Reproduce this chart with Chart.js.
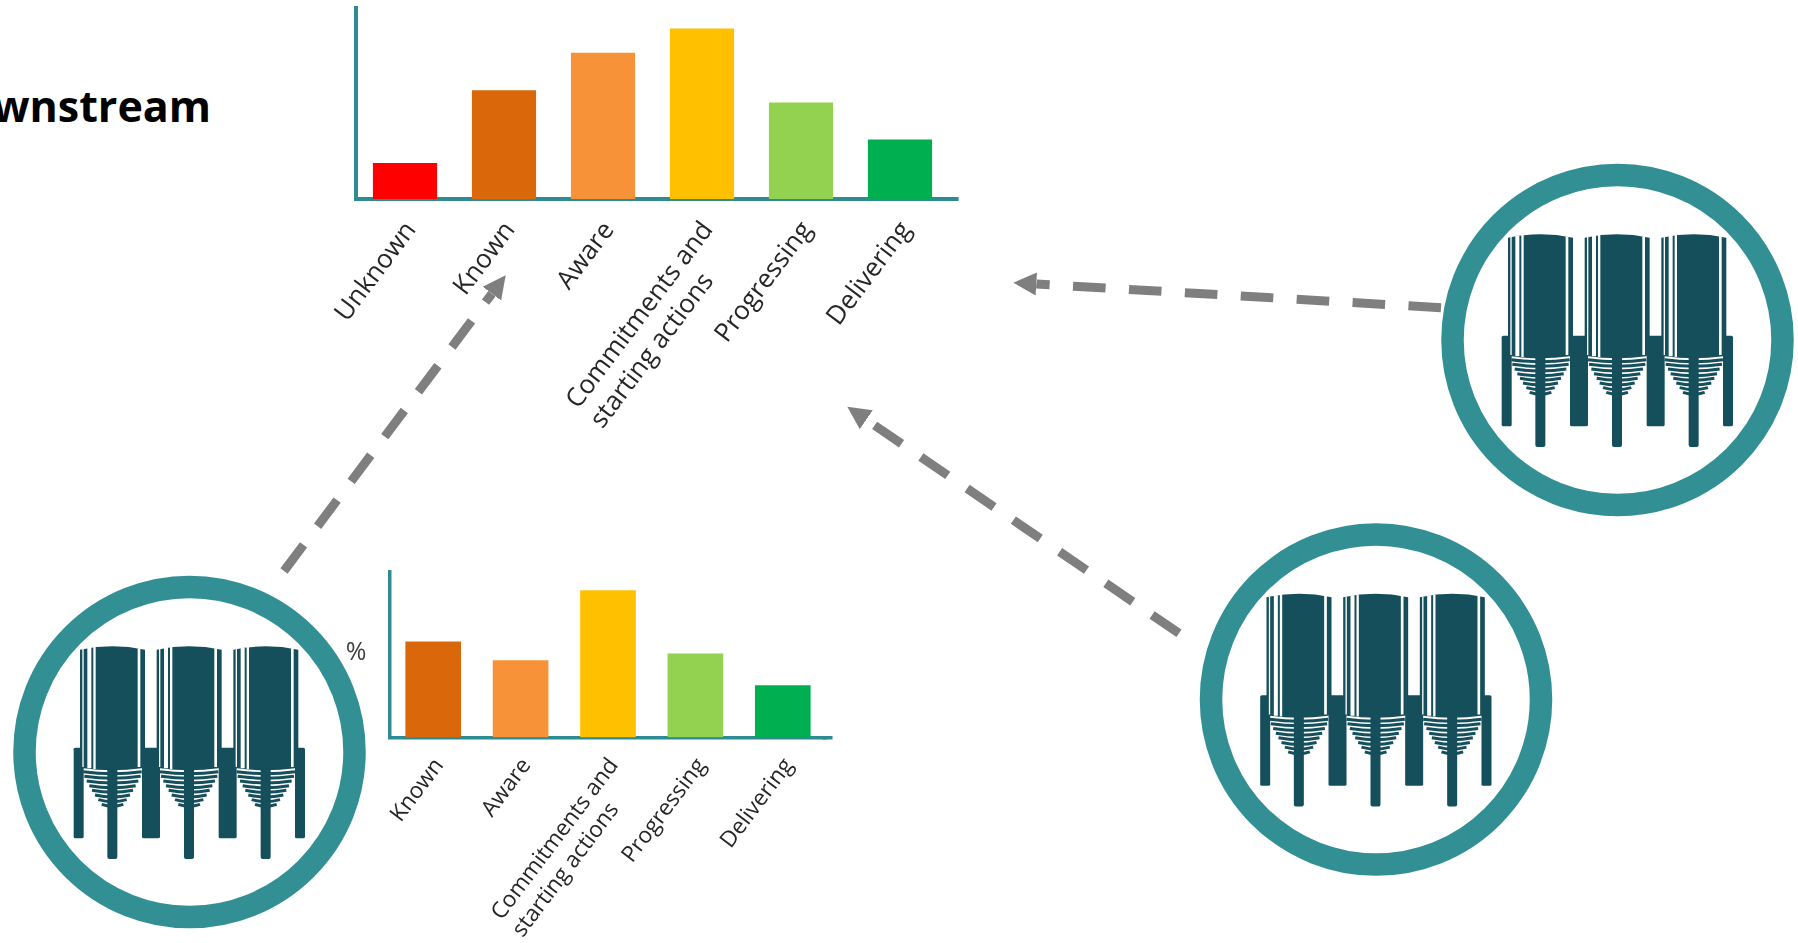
<!DOCTYPE html>
<html>
<head>
<meta charset="utf-8">
<title>Downstream</title>
<script src="https://cdn.jsdelivr.net/npm/chart.js@4"></script>
<style>
    html, body { margin: 0; width: 1798px; height: 943px; overflow: hidden; background: #fff; }
    canvas, svg { position: absolute; left: 0; top: 0; }
    #heading { position: absolute; right: 1587px; top: 76px; font: bold 43px/60px "Open Sans", sans-serif; color: #000; white-space: nowrap; }
</style>
</head>
<body>

<svg width="1798" height="943" viewBox="0 0 1798 943">
    <defs>
        <marker id="head" markerUnits="userSpaceOnUse" markerWidth="24" markerHeight="24" refX="0" refY="12" orient="auto">
            <path d="M0 0.5 L23 12 L0 23.5 Z" fill="#7f7f7f"/>
        </marker>
        <g id="tank">
            <!-- funnel bands -->
            <g fill="none" stroke="#154f5b" stroke-width="9">
                <path d="M40 410 Q127 422 215 410"/>
                <path d="M43 424 Q127 436 212 424"/>
                <path d="M50 438 Q127 450 205 438"/>
                <path d="M58 452 Q127 464 197 452"/>
                <path d="M66 466 Q127 478 189 466"/>
                <path d="M75 480 Q127 492 180 480"/>
                <path d="M85 494 Q127 506 170 494"/>
                <path d="M95 508 Q127 519 160 508"/>
            </g>
            <path d="M30 44 Q127 24 225 44 L225 390 L215 400 Q127 412 40 400 L30 390 Z" fill="#154f5b"/>
            <path d="M37 42 H41 V396 H37 Z M52 38 H64 V400 H52 Z M70 36 H77 V402 H70 Z M203 40 H211 V396 H203 Z" fill="#fff"/>
            <rect x="112" y="400" width="30" height="272" rx="6" fill="#154f5b"/>
        </g>
        <g id="silo" transform="scale(0.3333) translate(-358.5 -351)">
            <rect x="11" y="338" width="30" height="272" rx="5" fill="#154f5b"/>
            <rect x="216" y="338" width="54" height="272" rx="5" fill="#154f5b"/>
            <rect x="446" y="338" width="54" height="272" rx="5" fill="#154f5b"/>
            <rect x="675" y="338" width="30" height="272" rx="5" fill="#154f5b"/>
            <use href="#tank"/>
            <use href="#tank" x="230"/>
            <use href="#tank" x="460"/>
        </g>
        <g id="badge">
            <circle r="165" fill="#fff" stroke="#329094" stroke-width="22.5"/>
            <use href="#silo"/>
        </g>
    </defs>

    <line x1="945" y1="199" x2="958.6" y2="199" stroke="#2e8b91" stroke-width="4"/>
    <line x1="822" y1="737.75" x2="832.5" y2="737.75" stroke="#2e8b91" stroke-width="3.5"/>

    <line x1="284" y1="571" x2="491.9" y2="293.7" stroke="#7f7f7f" stroke-width="9" stroke-dasharray="32.6 23.4" marker-end="url(#head)"/>
    <line x1="1441" y1="307.7" x2="1036.3" y2="284" stroke="#7f7f7f" stroke-width="9" stroke-dasharray="32.6 23.4" marker-end="url(#head)"/>
    <line x1="1179" y1="633.3" x2="866.3" y2="419.7" stroke="#7f7f7f" stroke-width="9" stroke-dasharray="32.6 23.4" marker-end="url(#head)"/>

    <use href="#badge" x="189.5" y="752"/>
    <use href="#badge" x="1617.5" y="340"/>
    <use href="#badge" x="1376" y="699.5"/>
</svg>

<div id="heading">Downstream</div>

<canvas id="topChart" width="1798" height="943"></canvas>
<canvas id="bottomChart" width="1798" height="943"></canvas>

<script>
// the no-break spaces pull the second line back under the first once the label is right aligned
const secondLine = 'starting actions' + '\u00a0'.repeat(6)

const topLabels = ['Unknown', 'Known', 'Aware', ['Commitments and', secondLine], 'Progressing', 'Delivering']
const topValues = [5.8, 17.6, 23.7, 27.6, 15.6, 9.6]
const topColors = ['#ff0000', '#da680a', '#f79239', '#ffc000', '#92d250', '#00b050']

const bottomLabels = ['Known', 'Aware', ['Commitments and', secondLine], 'Progressing', 'Delivering']
const bottomValues = [21, 16.9, 32.3, 18.4, 11.4]
const bottomColors = ['#da680a', '#f79239', '#ffc000', '#92d250', '#00b050']

const axisColor = '#2e8b91'

function createChart (elementID, labelsArray, dataArray, colorsArray, box) {

    return new Chart(document.getElementById(elementID), {
        type: 'bar',
        data: {
            labels: labelsArray,
            datasets: [{
                data: dataArray,
                backgroundColor: colorsArray,
                barThickness: box.barWidth,
            }]
        },
        options: {
            responsive: false,
            animation: false,
            layout: {
                autoPadding: false,
                padding: { top: box.top, right: 1798 - box.right, left: 0, bottom: 0 }
            },
            plugins: {
                legend: { display: false },
                tooltip: { enabled: false }
            },
            scales: {
                x: {
                    z: box.axisOnTop ? 1 : 0,
                    grid: { display: false },
                    border: { color: axisColor, width: box.axisWidth },
                    afterFit: (scale) => { scale.height = 943 - box.bottom },
                    ticks: {
                        autoSkip: false,
                        minRotation: 53,
                        maxRotation: 53,
                        padding: box.tickPadding,
                        labelOffset: box.labelShift,
                        color: '#262626',
                        font: { family: '"Open Sans"', size: box.fontSize }
                    }
                },
                y: {
                    min: 0,
                    max: box.yMax,
                    grid: { display: false },
                    border: { color: axisColor, width: box.axisWidth },
                    afterFit: (scale) => { scale.width = box.left },
                    afterBuildTicks: (scale) => {
                        scale.ticks = box.unitAt ? [{ value: box.unitAt }] : []
                    },
                    ticks: {
                        display: !!box.unitAt,
                        padding: 15,
                        color: '#404040',
                        font: { family: '"Open Sans"', size: 25 },
                        callback: () => '%'
                    }
                }
            }
        }
    })
}

const topChart = createChart('topChart', topLabels, topValues, topColors, {
    left: 355.5, right: 949.5, top: 8, bottom: 199,
    barWidth: 63.5, axisWidth: 4, axisOnTop: true,
    yMax: 31, fontSize: 26, tickPadding: 9, labelShift: 6
})

const bottomChart = createChart('bottomChart', bottomLabels, bottomValues, bottomColors, {
    left: 389.5, right: 826.5, top: 572, bottom: 737.3,
    barWidth: 55, axisWidth: 3.5, axisOnTop: false,
    yMax: 36.4, fontSize: 22.5, tickPadding: 8, labelShift: 6, unitAt: 18.7
})
</script>
</body>
</html>
